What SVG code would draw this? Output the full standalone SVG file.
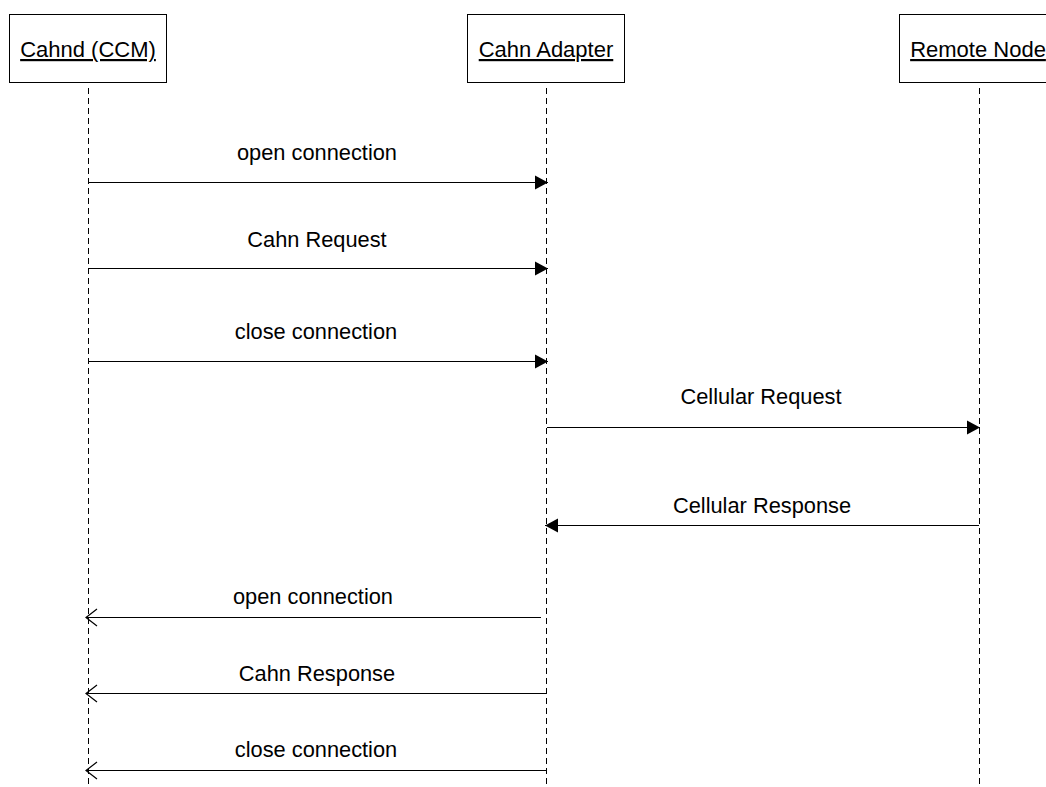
<svg xmlns="http://www.w3.org/2000/svg" width="1046" height="787" viewBox="0 0 1046 787">
  <style>
    .box { fill: #ffffff; stroke: #000000; stroke-width: 1; }
    .name { font-family: "Liberation Sans", Arial, sans-serif; font-size: 22px; fill: #000000; text-anchor: middle; text-decoration: underline; }
    .life { stroke: #000000; stroke-width: 1; stroke-dasharray: 6 4; fill: none; }
    .msg { stroke: #000000; stroke-width: 1; fill: none; }
    .lbl { font-family: "Liberation Sans", Arial, sans-serif; font-size: 21.8px; fill: #000000; text-anchor: middle; }
  </style>
  <defs>
    <!-- filled head for synchronous calls -->
    <marker id="solid" markerWidth="16" markerHeight="16" refX="14" refY="8" orient="auto" markerUnits="userSpaceOnUse">
      <path d="M1,1 L14,8 L1,15 Z" fill="#000000"/>
    </marker>
    <!-- open head for replies -->
    <marker id="open" markerWidth="14" markerHeight="20" refX="13" refY="10" orient="auto" markerUnits="userSpaceOnUse">
      <path d="M2,1.5 L13,10 L2,18.5" fill="none" stroke="#000000" stroke-width="1.2"/>
    </marker>
  </defs>
  <rect width="1046" height="787" fill="#ffffff"/>

  <!-- participants -->
  <g id="cahnd">
    <rect class="box" x="9.5" y="14.5" width="157" height="68"/>
    <text class="name" x="88" y="57">Cahnd (CCM)</text>
  </g>
  <g id="adapter">
    <rect class="box" x="467.5" y="14.5" width="157" height="68"/>
    <text class="name" x="546" y="57">Cahn Adapter</text>
  </g>
  <g id="remote">
    <rect class="box" x="899.5" y="14.5" width="157" height="68"/>
    <text class="name" x="978" y="57">Remote Node</text>
  </g>

  <!-- lifelines -->
  <g id="lifelines">
    <line class="life" x1="88.5" y1="88" x2="88.5" y2="787"/>
    <line class="life" x1="546.5" y1="88" x2="546.5" y2="787"/>
    <line class="life" x1="979.5" y1="88" x2="979.5" y2="787"/>
  </g>

  <!-- messages -->
  <g id="connectors">
    <line class="msg" x1="89" y1="182.5" x2="548" y2="182.5" marker-end="url(#solid)"/>
    <line class="msg" x1="89" y1="268.5" x2="548" y2="268.5" marker-end="url(#solid)"/>
    <line class="msg" x1="89" y1="361.5" x2="548" y2="361.5" marker-end="url(#solid)"/>
    <line class="msg" x1="547" y1="427.5" x2="980" y2="427.5" marker-end="url(#solid)"/>
    <line class="msg" x1="979" y1="525.5" x2="545" y2="525.5" marker-end="url(#solid)"/>
    <line class="msg" x1="541" y1="617.5" x2="86" y2="617.5" marker-end="url(#open)"/>
    <line class="msg" x1="546" y1="693.5" x2="86" y2="693.5" marker-end="url(#open)"/>
    <line class="msg" x1="546" y1="770.5" x2="86" y2="770.5" marker-end="url(#open)"/>
  </g>

  <!-- message labels -->
  <g id="labels">
    <text class="lbl" x="317" y="160">open connection</text>
    <text class="lbl" x="317" y="247">Cahn Request</text>
    <text class="lbl" x="316" y="339">close connection</text>
    <text class="lbl" x="761" y="404">Cellular Request</text>
    <text class="lbl" x="762" y="513">Cellular Response</text>
    <text class="lbl" x="313" y="604">open connection</text>
    <text class="lbl" x="317" y="681">Cahn Response</text>
    <text class="lbl" x="316" y="757">close connection</text>
  </g>
</svg>
